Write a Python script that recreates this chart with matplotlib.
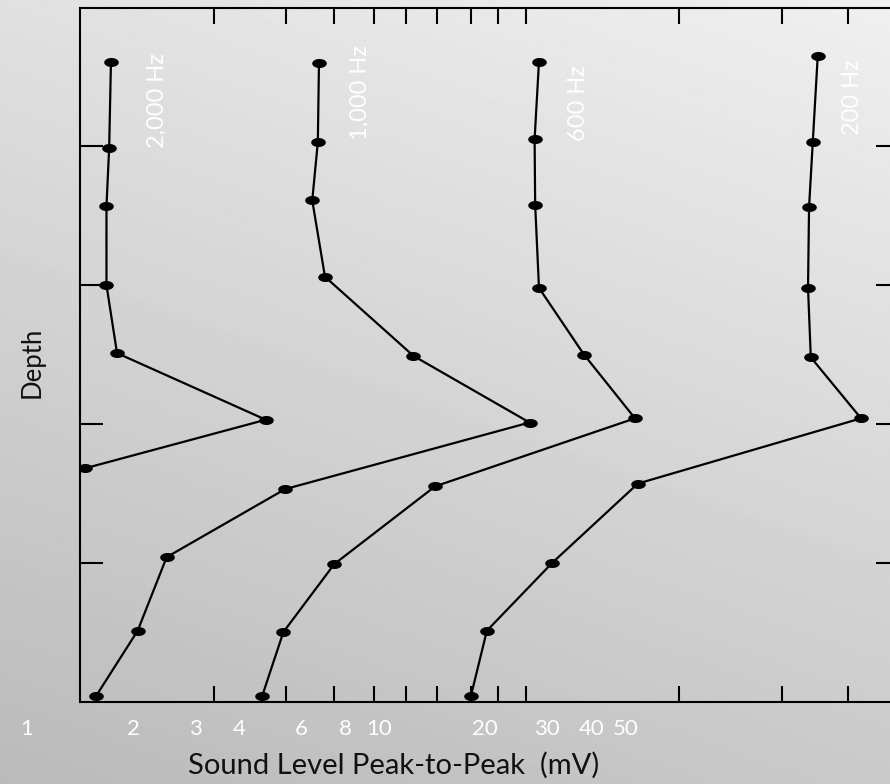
import numpy as np
import matplotlib
matplotlib.use("Agg")
import matplotlib.pyplot as plt
from matplotlib.path import Path
from matplotlib.transforms import blended_transform_factory

# sound level (mV) against depth, one trace per tone frequency
freq_labels = ["2,000 Hz", "1,000 Hz", "600 Hz", "200 Hz"]

depth_2000 = [0.39, 1.01, 1.43, 2.00, 2.49, 2.97, 3.32]
level_2000 = [1.73, 1.71, 1.68, 1.68, 1.80, 4.76, 1.46]

depth_1000 = [0.40, 0.97, 1.39, 1.94, 2.51, 2.99, 3.47, 3.96, 4.49, 4.96]
level_1000 = [6.74, 6.69, 6.45, 7.01, 12.5, 26.7, 5.40, 2.49, 2.06, 1.57]

depth_600 = [0.39, 0.95, 1.42, 2.02, 2.50, 2.96, 3.45, 4.01, 4.50, 4.96]
level_600 = [28.4, 27.6, 27.7, 28.4, 38.1, 53.2, 14.4, 7.45, 5.34, 4.65]

depth_200 = [0.35, 0.97, 1.44, 2.02, 2.52, 2.96, 3.43, 4.00, 4.49, 4.96]
level_200 = [175.7, 170.1, 166.0, 164.9, 167.9, 233.2, 54.2, 31.0, 20.2, 18.2]

# printed scale values under the axis
scale_labels = [1, 2, 3, 4, 6, 8, 10, 20, 30, 40, 50]
# tick marks along top and bottom frame
x_tick_marks = [3.40, 5.42, 7.45, 9.68, 11.9, 14.6, 18.2, 21.7, 26.1, 71.1, 139, 214]
depth_ticks = [1, 2, 3, 4]

# where the frequency names sit (mV, depth)
label_spots = [(2.35, 0.67), (8.82, 0.61), (36.7, 0.69), (220, 0.645)]

FONT = ["Lato", "DejaVu Sans"]
plt.rcParams["font.family"] = FONT

fig = plt.figure(figsize=(8.9, 7.84), dpi=100)

# soft grey backdrop, lighter toward the top right
bg = fig.add_axes([0, 0, 1, 1], zorder=-10)
gx, gy = np.meshgrid(np.linspace(0, 1, 300), np.linspace(0, 1, 300))
shade = 0.88 + 0.06 * gx - 0.15 * gy
bg.imshow(shade, cmap="gray", vmin=0, vmax=1, extent=[0, 1, 0, 1], aspect="auto")
bg.axis("off")

ax = fig.add_axes([80 / 890, 1 - 701.5 / 784, 819 / 890, 694 / 784])
ax.set_facecolor("none")
ax.set_xscale("log")
ax.set_xlim(1.413, 298.9)
ax.set_ylim(5, 0)

t = np.linspace(0, 2 * np.pi, 60)
dot = Path(np.column_stack([np.cos(t), 0.62 * np.sin(t)]))

for lv, dp in [(level_2000, depth_2000), (level_1000, depth_1000),
               (level_600, depth_600), (level_200, depth_200)]:
    ax.plot(lv, dp, color="black", lw=1.6, marker=dot, ms=10.5,
            mfc="black", mec="black", mew=0)

for name, (lx, ly) in zip(freq_labels, label_spots):
    ax.text(lx, ly, name, rotation=90, ha="center", va="center",
            color="white", fontsize=17)

ax.xaxis.set_major_locator(matplotlib.ticker.FixedLocator(x_tick_marks))
ax.xaxis.set_minor_locator(matplotlib.ticker.NullLocator())
ax.set_xticklabels([])
ax.set_yticks(depth_ticks)
ax.set_yticklabels([])
ax.tick_params(axis="x", which="major", direction="in", top=True, bottom=True,
               length=11.5, width=1.5, color="black")
ax.tick_params(axis="y", direction="in", left=True, right=True,
               length=16.5, width=1.5, color="black")
for sp in ax.spines.values():
    sp.set_linewidth(1.5)

trans = blended_transform_factory(ax.transData, ax.transAxes)
for v in scale_labels:
    ax.text(v, -0.04, str(v), transform=trans, ha="center", va="center",
            color="white", fontsize=16, clip_on=False)

fig.text(394 / 890, 1 - 765 / 784, "Sound Level Peak-to-Peak  (mV)",
         ha="center", va="center", fontsize=21, color="#111111")
fig.text(32 / 890, 1 - 362 / 784, "Depth", rotation=90,
         ha="center", va="center", fontsize=18.5, color="#111111")

fig.savefig("out.png", dpi=100)
